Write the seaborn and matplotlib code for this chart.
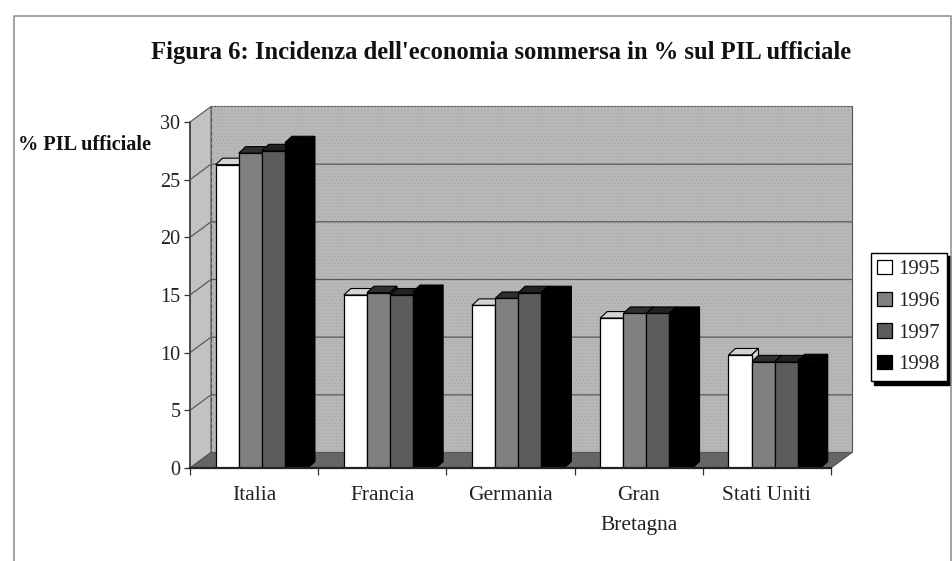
# Figura 6 - economia sommersa, grafico a barre in finta 3D
import numpy as np
import pandas as pd
import matplotlib
matplotlib.use('Agg')
import matplotlib.pyplot as plt
from matplotlib.lines import Line2D
from matplotlib.patches import Polygon
import seaborn as sns

paesi = ['Italia', 'Francia', 'Germania', 'Gran\nBretagna', 'Stati Uniti']
anni = ['1995', '1996', '1997', '1998']
v_1995 = [26.3, 15.0, 14.1, 13.0, 9.8]
v_1996 = [27.3, 15.2, 14.7, 13.4, 9.2]
v_1997 = [27.5, 15.0, 15.2, 13.4, 9.2]
v_1998 = [28.2, 15.3, 15.2, 13.4, 9.3]
tick_y = [0, 5, 10, 15, 20, 25, 30]

colori = ['#ffffff', '#808080', '#5c5c5c', '#000000']
colori_cap = ['#d4d4d4', '#303030', '#222222', '#000000']

df = pd.DataFrame({
    'paese': np.tile(paesi, 4),
    'anno': np.repeat(anni, 5),
    'valore': v_1995 + v_1996 + v_1997 + v_1998,
})

sns.set_theme(style='white')
plt.rcParams['font.family'] = ['Liberation Serif', 'DejaVu Serif']
plt.rcParams['hatch.linewidth'] = 0.4

W, H = 952, 561
fig = plt.figure(figsize=(W / 100, H / 100), dpi=100, facecolor='white')
ax = fig.add_axes([190 / W, (H - 468) / H, (831 - 190) / W, (468 - 122) / H])
ax.patch.set_visible(False)

sns.barplot(data=df, x='paese', y='valore', hue='anno', order=paesi, hue_order=anni,
            palette=colori, width=0.72, gap=0, saturation=1,
            edgecolor='black', linewidth=0.9, ax=ax, zorder=4)

SHIFT = 0.06
x0, x1 = -0.5 - SHIFT, 4.5 - SHIFT
ax.set_xlim(x0, x1)
ax.set_ylim(0, 30)

# profondita' del finto 3D, in unita' dei dati
DX, DY = 21 / 128.2, 15.5 / 11.53
CAP_X, CAP_Y = 7 / 128.2, 6.5 / 11.53


def poligono(pts, colore, z, bordo='#555555', lw=0.8):
    ax.add_patch(Polygon(pts, closed=True, facecolor=colore, edgecolor=bordo,
                         linewidth=lw, zorder=z, clip_on=False))


# pareti e pavimento
fondo = [(x0 + DX, DY), (x1 + DX, DY), (x1 + DX, 30 + DY), (x0 + DX, 30 + DY)]
poligono(fondo, '#b8b8b8', 1)
# grana della stampa sul fondo
ax.add_patch(Polygon(fondo, closed=True, fill=False, edgecolor='#a4a4a4', hatch='.....',
                     linewidth=0, zorder=1.1, clip_on=False))
poligono([(x0, 0), (x0 + DX, DY), (x0 + DX, 30 + DY), (x0, 30)], '#c2c2c2', 1)
poligono([(x0, 0), (x1, 0), (x1 + DX, DY), (x0 + DX, DY)], '#666666', 1.2)

for t in tick_y[1:-1]:
    ax.plot([x0, x0 + DX, x1 + DX], [t, t + DY, t + DY], color='#5a5a5a', lw=0.9,
            zorder=1.5, clip_on=False)

# tetto e fianco di ogni barra
for cont, c_cap in zip(ax.containers, colori_cap):
    for bar in cont:
        xa = bar.get_x()
        xb = xa + bar.get_width()
        h = bar.get_height()
        poligono([(xa, h), (xb, h), (xb + CAP_X, h + CAP_Y), (xa + CAP_X, h + CAP_Y)],
                 c_cap, 3, bordo='black')
        poligono([(xb, 0), (xb + CAP_X, CAP_Y), (xb + CAP_X, h + CAP_Y), (xb, h)],
                 c_cap, 3, bordo='black')

ax.set_xlabel('')
ax.set_ylabel('')
ax.set_yticks(tick_y)
ax.tick_params(axis='y', length=4, width=0.9, color='#333333', pad=3, labelsize=14.5,
               labelcolor='#222222', left=True)
ax.set_xticks(np.arange(5) - SHIFT)
ax.set_xticklabels(paesi, fontsize=15.5, color='#222222', linespacing=1.8)
ax.set_xticks(np.arange(6) - 0.5 - SHIFT, minor=True)
ax.tick_params(axis='x', which='major', length=0, pad=13)
ax.tick_params(axis='x', which='minor', length=5, width=0.9, color='#333333', bottom=True)
for lato in ['top', 'right']:
    ax.spines[lato].set_visible(False)
ax.spines['left'].set_color('#444444')
ax.spines['bottom'].set_color('#222222')
ax.spines['bottom'].set_linewidth(1.6)
for sp in ax.spines.values():
    sp.set_zorder(5)

leg = ax.legend(loc='upper left', bbox_to_anchor=(870.5 / W, (H - 253) / H),
                bbox_transform=fig.transFigure, fontsize=15, frameon=True, fancybox=False,
                shadow={'color': 'black', 'alpha': 1, 'ox': 2.5, 'oy': -2.5},
                edgecolor='black', framealpha=1, borderaxespad=0, borderpad=0.33,
                handlelength=0.7, handleheight=0.7, handletextpad=0.3, labelspacing=0.58)
leg.get_frame().set_linewidth(1.0)
leg.set_title(None)

# cornice e testi
fig.add_artist(Line2D([14 / W, 14 / W, 951 / W, 951 / W],
                      [0, (H - 16) / H, (H - 16) / H, 0],
                      color='#8a8a8a', lw=1.1))
fig.text(501 / W, (H - 52) / H, "Figura 6: Incidenza dell'economia sommersa in % sul PIL ufficiale",
         ha='center', va='center', fontsize=17.7, fontweight='bold', color='#111111')
fig.text(84 / W, (H - 145) / H, '% PIL ufficiale', ha='center', va='center',
         fontsize=14.6, fontweight='bold', color='#111111')

fig.savefig('out.png', dpi=100, facecolor='white')
plt.close(fig)
